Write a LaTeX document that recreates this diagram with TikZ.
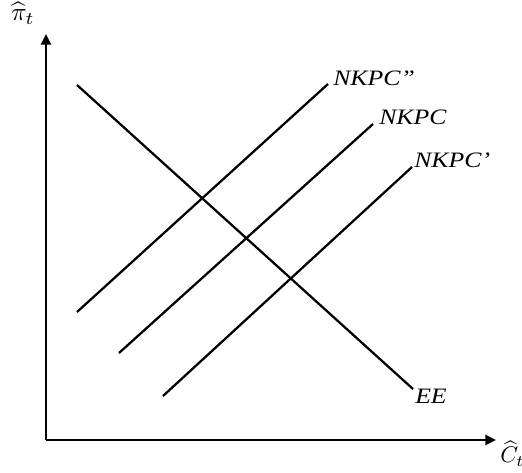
\documentclass[tikz,border=0pt]{standalone}
\usepackage{fontspec}
\setmainfont{Liberation Serif}
\newfontfamily\labfont[FakeStretch=1.17]{Liberation Serif}
\usetikzlibrary{arrows.meta}
\begin{document}
\begin{tikzpicture}[x=0.75pt,y=-0.75pt,
  curve/.style={line width=1.7pt},
  axis/.style={line width=1.7pt,-{Stealth[length=8pt,width=7.5pt,inset=0pt]}},
  lab/.style={anchor=base west,inner sep=0pt,font=\labfont\fontsize{16.5}{18}\selectfont\itshape},
  mlab/.style={anchor=base west,inner sep=0pt}]
\useasboundingbox (0,0) rectangle (522,473);
\coordinate (O) at (46,440);
\coordinate (Ytop) at (46,34);
\coordinate (Xend) at (496,440);
\draw[axis] (O) -- (Ytop);
\draw[axis] (O) -- (Xend);
\node[mlab] (pi) at (11,21) {\scalebox{1.9}{$\widehat{\pi}_t$}};
\node[mlab] (c) at (500,463) {\scalebox{1.7}{$\widehat{C}_t$}};
% EE
\coordinate (e1) at (77,85);
\coordinate (e2) at (413,389);
\draw[curve] (e1) -- (e2);
\node[lab] (ee) at (415,404) {EE};
% NKPC''
\coordinate (a1) at (77,312);
\coordinate (a2) at (328,84);
\draw[curve] (a1) -- (a2);
\node[lab] (la) at (333,86) {NKPC”};
% NKPC
\coordinate (b1) at (119,353);
\coordinate (b2) at (373,124);
\draw[curve] (b1) -- (b2);
\node[lab] (lb) at (379,125) {NKPC};
% NKPC'
\coordinate (d1) at (163,396);
\coordinate (d2) at (412,167);
\draw[curve] (d1) -- (d2);
\node[lab] (ld) at (414,168) {NKPC’};
\end{tikzpicture}
\end{document}
